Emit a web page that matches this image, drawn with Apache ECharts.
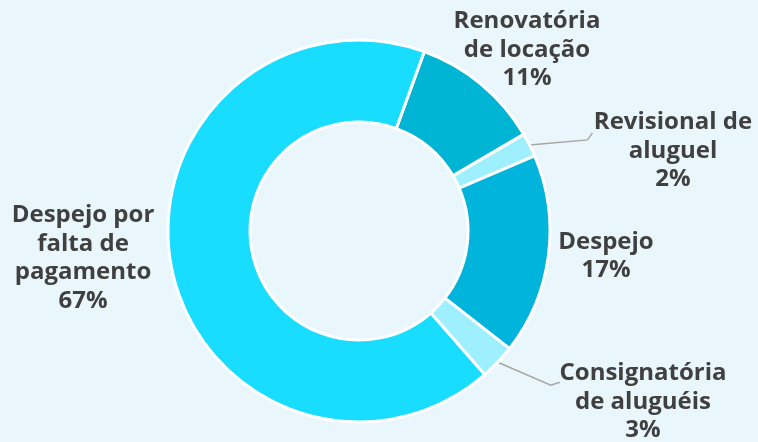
<!DOCTYPE html>
<html>
<head>
<meta charset="utf-8">
<script src="https://cdn.jsdelivr.net/npm/echarts@6/dist/echarts.min.js"></script>
<style>
  html, body { margin: 0; padding: 0; background: #e9f6fc; }
  #chart { width: 758px; height: 442px; }
</style>
</head>
<body>
<div id="chart"></div>
<script>
const categories = [
  'Renovatória\nde locação',
  'Revisional de\naluguel',
  'Despejo',
  'Consignatória\nde aluguéis',
  'Despejo por\nfalta de\npagamento'
];
const values = [11, 2, 17, 3, 67];
const colors = ['#00b4d3', '#9eefff', '#00b4dc', '#9eefff', '#19ddff'];

// label centres and leader line bends (layout only)
const labelPos = [[527, 50], [673, 151], [606, 256], [643, 402], [83, 258]];
const leaders = {
  1: [[58, -5], [63, -12]],
  3: [[53, 23], [62, 20]]
};

const chart = echarts.init(document.getElementById('chart'));

chart.setOption({
  backgroundColor: '#e9f6fc',
  animation: false,
  series: [{
    type: 'pie',
    center: [359, 231],
    radius: [109, 191],
    startAngle: 70,
    clockwise: true,
    itemStyle: { borderColor: '#ffffff', borderWidth: 3 },
    label: {
      show: true,
      position: 'outside',
      overflow: 'none',
      formatter: p => p.name + '\n' + p.value + '%',
      fontFamily: '"Open Sans", sans-serif',
      fontWeight: 'bold',
      fontSize: 24,
      lineHeight: 28.5,
      color: '#404040',
      align: 'center'
    },
    labelLine: { show: true, lineStyle: { color: '#a6a6a6', width: 1.5 } },
    labelLayout: function (params) {
      const i = params.dataIndex;
      const pos = labelPos[i];
      const out = { x: pos[0], y: pos[1], align: 'center', verticalAlign: 'middle' };
      const p0 = params.labelLinePoints ? params.labelLinePoints[0] : null;
      if (leaders[i] && p0) {
        out.labelLinePoints = [
          p0,
          [p0[0] + leaders[i][0][0], p0[1] + leaders[i][0][1]],
          [p0[0] + leaders[i][1][0], p0[1] + leaders[i][1][1]]
        ];
      } else if (p0) {
        out.labelLinePoints = [p0, p0, p0];
      }
      return out;
    },
    data: categories.map((c, i) => ({
      name: c,
      value: values[i],
      itemStyle: { color: colors[i] },
      labelLine: { show: !!leaders[i] }
    }))
  }]
});
</script>
</body>
</html>
